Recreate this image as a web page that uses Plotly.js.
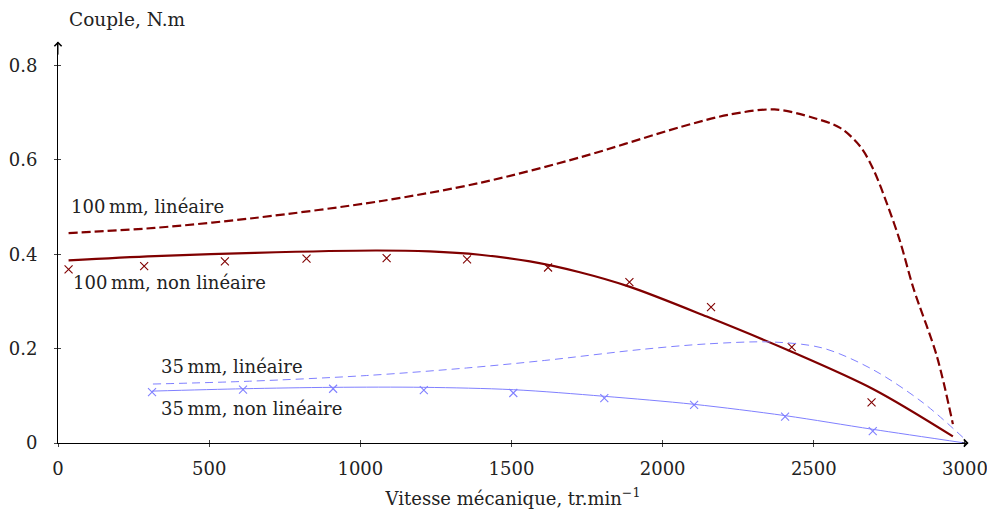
<!DOCTYPE html>
<html>
<head>
<meta charset="utf-8">
<script src="https://cdn.plot.ly/plotly-3.0.1.min.js"></script>
<style>html,body{margin:0;padding:0;background:#fff;}#chart{width:987px;height:510px;}</style>
</head>
<body>
<div id="chart"></div>
<script>
// 100 mm, linear model (dashed)
const x100Lin = [35, 320, 650, 1070, 1400, 1730, 2060, 2220, 2370, 2500, 2587, 2653, 2697, 2741, 2785, 2829, 2907, 2960];
const y100Lin = [0.445, 0.456, 0.477, 0.513, 0.552, 0.606, 0.670, 0.696, 0.707, 0.689, 0.668, 0.629, 0.580, 0.509, 0.428, 0.329, 0.184, 0.040];
// 100 mm, non linear model (solid)
const x100NL = [35, 320, 651, 1050, 1230, 1395, 1561, 1726, 1892, 2146, 2421, 2697, 2960];
const y100NL = [0.387, 0.396, 0.403, 0.408, 0.406, 0.399, 0.385, 0.362, 0.331, 0.268, 0.195, 0.114, 0.014];
// 100 mm, measurements (crosses)
const x100Meas = [35, 285, 552, 822, 1087, 1353, 1621, 1890, 2160, 2427, 2691];
const y100Meas = [0.368, 0.375, 0.385, 0.391, 0.392, 0.389, 0.372, 0.341, 0.288, 0.203, 0.086];
// 35 mm, linear model (dashed)
const x35Lin = [314, 634, 1020, 1351, 1610, 1925, 2146, 2366, 2531, 2697, 2862, 2993];
const y35Lin = [0.125, 0.131, 0.143, 0.159, 0.175, 0.198, 0.210, 0.214, 0.201, 0.155, 0.085, 0.012];
// 35 mm, non linear model (solid)
const x35NL = [311, 612, 910, 1210, 1506, 1807, 2104, 2405, 2695, 3000];
const y35NL = [0.110, 0.115, 0.118, 0.118, 0.113, 0.099, 0.082, 0.058, 0.029, 0.0];
// 35 mm, measurements (crosses)
const x35Meas = [311, 612, 910, 1210, 1506, 1807, 2104, 2405, 2695];
const y35Meas = [0.108, 0.113, 0.115, 0.112, 0.106, 0.095, 0.081, 0.056, 0.025];

const xTicks = [0, 500, 1000, 1500, 2000, 2500, 3000];
const xTickText = ['0', '500', '1000', '1500', '2000', '2500', '3000'];
const yTicks = [0, 0.2, 0.4, 0.6, 0.8];
const yTickText = ['0', '0.2', '0.4', '0.6', '0.8'];

const labels = ['100\u2009mm, linéaire', '100\u2009mm, non linéaire', '35\u2009mm, linéaire', '35\u2009mm, non linéaire'];

const RED = '#800000';
const BLUE = '#8080ff';
const FONT = '"DejaVu Serif", "Liberation Serif", serif';

const traces = [
  {x: x100Lin, y: y100Lin, mode: 'lines', line: {color: RED, width: 2.2, dash: '9px,4px', shape: 'spline', smoothing: 0.9}},
  {x: x100NL, y: y100NL, mode: 'lines', line: {color: RED, width: 2.2, shape: 'spline', smoothing: 0.9}},
  {x: x100Meas, y: y100Meas, mode: 'markers', marker: {symbol: 'x-thin', size: 8, line: {color: RED, width: 1.1}, color: RED}},
  {x: x35Lin, y: y35Lin, mode: 'lines', line: {color: BLUE, width: 1, dash: '8px,5px', shape: 'spline', smoothing: 0.9}},
  {x: x35NL, y: y35NL, mode: 'lines', line: {color: BLUE, width: 1, shape: 'spline', smoothing: 0.9}},
  {x: x35Meas, y: y35Meas, mode: 'markers', marker: {symbol: 'x-thin', size: 8, line: {color: BLUE, width: 1.1}, color: BLUE}},
  {x: [], y: [], xaxis: 'x2', yaxis: 'y2', mode: 'lines', hoverinfo: 'skip'}
];
traces.forEach(t => { t.showlegend = false; t.cliponaxis = false; });

const X_RANGE = [0, 3010];
const Y_RANGE = [0, 0.85];

const layout = {
  width: 987, height: 510,
  margin: {l: 58, r: 19, t: 42, b: 67},
  paper_bgcolor: '#fff', plot_bgcolor: '#fff',
  font: {family: FONT, size: 18, color: '#222'},
  showlegend: false,
  xaxis: {
    range: X_RANGE, showgrid: false, zeroline: false,
    showline: true, linecolor: '#000', linewidth: 1,
    ticks: 'outside', ticklen: 3, tickcolor: '#444', tickwidth: 1,
    tickvals: xTicks, ticktext: xTickText, ticklabelstandoff: 6,
    ticklabeloverflow: 'allow',
    title: {text: 'Vitesse mécanique, tr.min<sup>−1</sup>', font: {size: 18}, standoff: 14}
  },
  yaxis: {
    range: Y_RANGE, showgrid: false, zeroline: false,
    showline: true, linecolor: '#000', linewidth: 1,
    ticks: 'outside', ticklen: 3, tickcolor: '#444', tickwidth: 1,
    tickvals: yTicks, ticktext: yTickText, ticklabelstandoff: 13,
    ticklabeloverflow: 'allow'
  },
  xaxis2: {
    overlaying: 'x', anchor: 'y2', range: X_RANGE, showgrid: false, zeroline: false,
    showline: false, ticks: 'inside', ticklen: 3, tickcolor: '#444', tickwidth: 1,
    tickvals: xTicks, showticklabels: false
  },
  yaxis2: {
    overlaying: 'y', anchor: 'x2', range: Y_RANGE, showgrid: false, zeroline: false,
    showline: false, ticks: 'inside', ticklen: 3, tickcolor: '#444', tickwidth: 1,
    tickvals: yTicks, showticklabels: false
  },
  annotations: [
    {xref: 'paper', yref: 'paper', x: 0.01, y: 1.055, xanchor: 'left', yanchor: 'middle', text: 'Couple, N.m', showarrow: false, font: {size: 18.5}},
    {xref: 'x', yref: 'y', x: 38, y: 0.502, xanchor: 'left', yanchor: 'middle', text: labels[0], showarrow: false},
    {xref: 'x', yref: 'y', x: 44, y: 0.341, xanchor: 'left', yanchor: 'middle', text: labels[1], showarrow: false},
    {xref: 'x', yref: 'y', x: 335, y: 0.163, xanchor: 'left', yanchor: 'middle', text: labels[2], showarrow: false},
    {xref: 'x', yref: 'y', x: 335, y: 0.074, xanchor: 'left', yanchor: 'middle', text: labels[3], showarrow: false},
    {xref: 'x', yref: 'y', axref: 'x', ayref: 'y', x: 3012, y: 0, ax: 2985, ay: 0, text: '', showarrow: true, arrowhead: 4, arrowsize: 1.4, arrowwidth: 1, arrowcolor: '#000'},
    {xref: 'x', yref: 'y', axref: 'x', ayref: 'y', x: 0, y: 0.851, ax: 0, ay: 0.82, text: '', showarrow: true, arrowhead: 4, arrowsize: 1.4, arrowwidth: 1, arrowcolor: '#000'}
  ]
};

Plotly.newPlot('chart', traces, layout, {staticPlot: true, displayModeBar: false});
</script>
</body>
</html>
